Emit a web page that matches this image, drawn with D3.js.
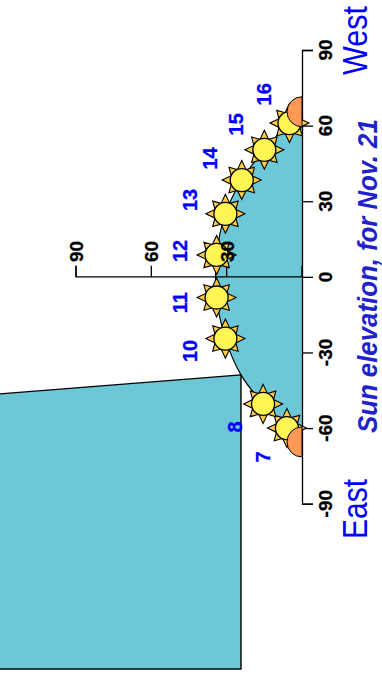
<!DOCTYPE html>
<html>
<head>
<meta charset="utf-8">
<script src="https://cdnjs.cloudflare.com/ajax/libs/d3/7.8.5/d3.min.js"></script>
<style>
	html, body { margin: 0; padding: 0; background: #fff; }
	svg { display: block; font-family: "Liberation Sans", Arial, sans-serif; }
</style>
</head>
<body>
<div id="chart"></div>
<script>
// sun path, hour by hour (azimuth and elevation in degrees)
var hours = [7, 8, 9, 10, 11, 12, 13, 14, 15, 16];
var sunAz = [-60, -50.4, -38.9, -24.5, -8.2, 8.7, 25, 38.4, 50.4, 61];
var sunEl = [6, 15.5, 24.3, 30.5, 34, 34, 30.5, 24, 15, 5];
var hiddenHours = [9];

// sunrise and sunset
var horizonAz = [-65.5, 65.5];

// where the hour numbers sit
var labelHours = [7, 8, 10, 11, 12, 13, 14, 15, 16];
var labelAz = [-71.4, -59.5, -29.4, -10.3, 10.3, 30.5, 47, 60.5, 72.4];
var labelEl = [12.7, 23.9, 41.8, 45.8, 45.8, 41.8, 33.9, 23.5, 12.4];

// obstacle outline (building on the east side), runs off the page
var obstacleAz = [-38.9, -47.2, -155.6, -155.6, -38.9];
var obstacleEl = [24.3, 130, 130, 24.3, 24.3];

var azTicks = [-90, -60, -30, 0, 30, 60, 90];
var elTicks = [30, 60, 90];

var azScale = d3.scaleLinear().domain([-90, 90]).range([503.7, 50]);
var elScale = d3.scaleLinear().domain([0, 90]).range([302, 76]);

var svg = d3.select('#chart').append('svg')
	.attr('width', 382)
	.attr('height', 675);

// sky area under the sun path
var pathData = [{ az: horizonAz[0], el: 0 }];
hours.forEach(function (h, i) {
	pathData.push({ az: sunAz[i], el: sunEl[i] });
});
pathData.push({ az: horizonAz[1], el: 0 });

var area = d3.area()
	.y(function (d) { return azScale(d.az); })
	.x0(elScale(0))
	.x1(function (d) { return elScale(d.el); })
	.curve(d3.curveCatmullRom);

var line = d3.line()
	.x(function (d) { return elScale(d.el); })
	.y(function (d) { return azScale(d.az); })
	.curve(d3.curveCatmullRom);

svg.append('path')
	.attr('d', area(pathData))
	.attr('fill', '#6cc7d6');

svg.append('path')
	.attr('d', line(pathData))
	.attr('fill', 'none')
	.attr('stroke', '#000')
	.attr('stroke-width', 1.2);

// obstacle
var obstacle = obstacleAz.map(function (a, i) {
	return [elScale(obstacleEl[i]), azScale(a)];
});
svg.append('path')
	.attr('d', d3.line()(obstacle))
	.attr('fill', '#6cc7d6')
	.attr('stroke', '#000')
	.attr('stroke-width', 1.4);

// axes
var azAxis = svg.append('g')
	.attr('transform', 'translate(' + elScale(0) + ',0)')
	.call(d3.axisRight(azScale).tickValues(azTicks).tickSize(11).tickFormat(d3.format('d')));

var elAxis = svg.append('g')
	.attr('transform', 'translate(0,' + azScale(0) + ')')
	.call(d3.axisTop(elScale).tickValues(elTicks).tickSize(11).offset(0));

svg.selectAll('.domain').attr('stroke', '#000').attr('stroke-width', 1.3);
svg.selectAll('.tick line').attr('stroke', '#000').attr('stroke-width', 1.3);
svg.selectAll('.tick text').remove();

// suns
var rays = [];
for (var i = 0; i < 16; i++) {
	var r = i % 2 ? 11.3 : (i % 4 ? 18 : 19.5);
	rays.push([i * Math.PI / 8, r]);
}
var rayPath = d3.lineRadial().curve(d3.curveLinearClosed)(rays);

var suns = hours.map(function (h, i) {
	return { hour: h, az: sunAz[i], el: sunEl[i] };
}).filter(function (d) {
	return hiddenHours.indexOf(d.hour) < 0;
});

var sun = svg.selectAll('.sun')
	.data(suns)
	.enter().append('g')
	.attr('class', 'sun')
	.attr('transform', function (d) {
		return 'translate(' + elScale(d.el) + ',' + azScale(d.az) + ')';
	});

sun.append('path')
	.attr('d', rayPath)
	.attr('fill', '#ffcc44')
	.attr('stroke', '#000')
	.attr('stroke-width', 1.1);

sun.append('circle')
	.attr('r', 11.5)
	.attr('fill', '#fff655')
	.attr('stroke', '#000')
	.attr('stroke-width', 1.3);

// half suns on the horizon
var halfSun = d3.arc()
	.innerRadius(0)
	.outerRadius(15)
	.startAngle(Math.PI)
	.endAngle(2 * Math.PI);

svg.selectAll('.horizon')
	.data(horizonAz)
	.enter().append('path')
	.attr('class', 'horizon')
	.attr('transform', function (d) {
		return 'translate(' + elScale(0) + ',' + azScale(d) + ')';
	})
	.attr('d', halfSun)
	.attr('fill', '#ff9955')
	.attr('stroke', '#000')
	.attr('stroke-width', 1);

// every text reads bottom to top, and is a little stretched across its baseline
function rotatedText(x, y, text, stretch) {
	return svg.append('text')
		.attr('transform', 'translate(' + x + ',' + y + ') rotate(-90) scale(1,' + (stretch || 1) + ')')
		.text(text);
}

azTicks.forEach(function (t) {
	rotatedText(332, azScale(t), t)
		.attr('text-anchor', 'middle')
		.attr('font-size', 19)
		.attr('font-weight', 'bold')
		.attr('stroke', '#000')
		.attr('stroke-width', 0.3);
});

elTicks.forEach(function (t) {
	rotatedText(elScale(t) + 7, 262, t)
		.attr('font-size', 19)
		.attr('font-weight', 'bold')
		.attr('stroke', '#000')
		.attr('stroke-width', 0.3);
});

labelHours.forEach(function (h, i) {
	rotatedText(elScale(labelEl[i]), azScale(labelAz[i]), h, 1.05)
		.attr('text-anchor', 'middle')
		.attr('font-size', 20)
		.attr('font-weight', 'bold')
		.attr('fill', '#0000ff')
		.attr('stroke', '#0000ff')
		.attr('stroke-width', 0.3);
});

rotatedText(367, 539, 'East', 1.14)
	.attr('font-size', 30)
	.attr('fill', '#0000ff');

rotatedText(367, 75, 'West', 1.14)
	.attr('font-size', 30.5)
	.attr('fill', '#0000ff');

rotatedText(377, 433, 'Sun elevation, for Nov. 21', 1.09)
	.attr('font-size', 25.8)
	.attr('font-weight', 'bold')
	.attr('font-style', 'italic')
	.attr('fill', '#2222cc');
</script>
</body>
</html>
